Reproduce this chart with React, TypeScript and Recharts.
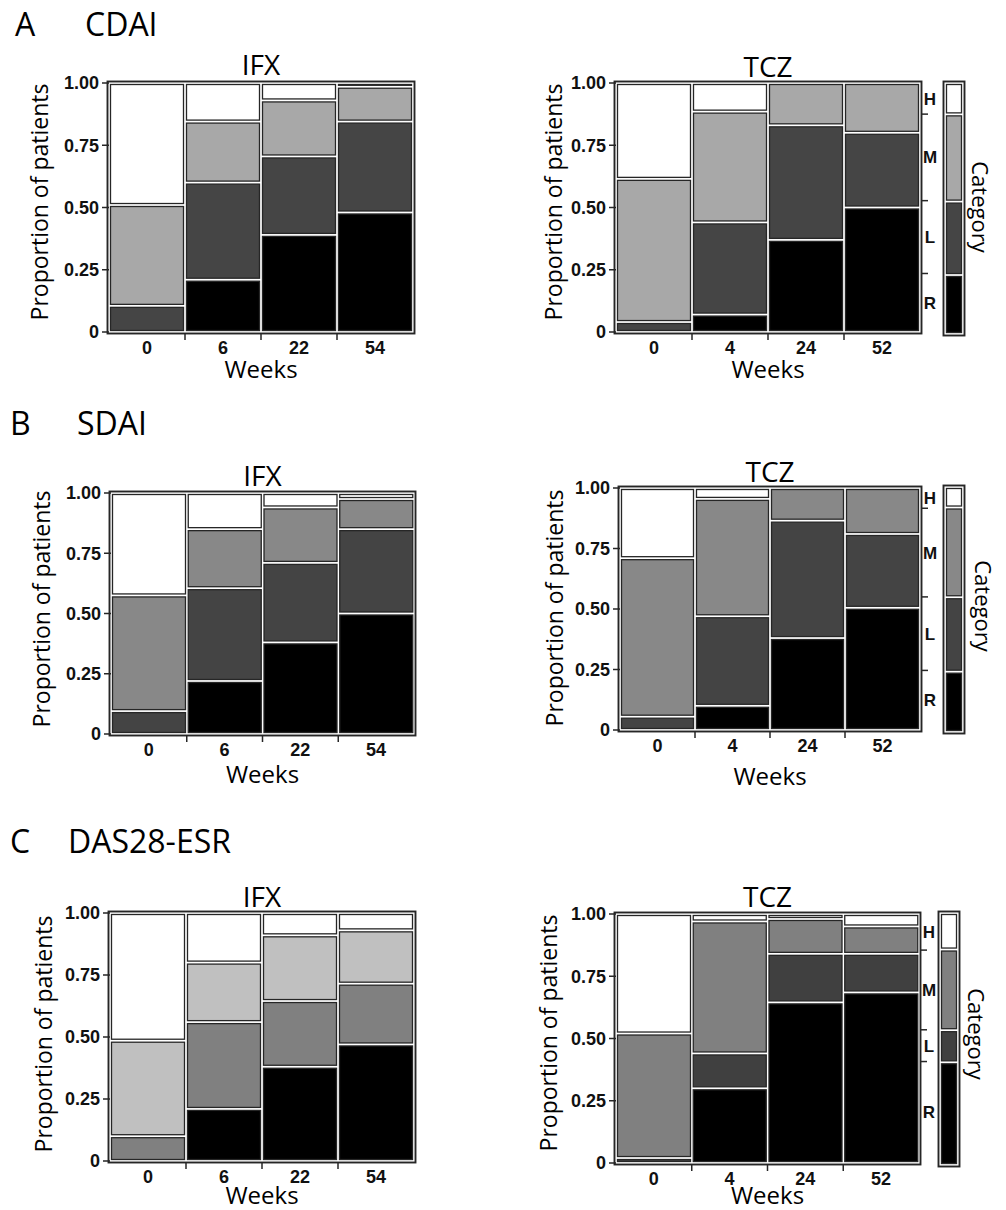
import React from 'react';
import { ComposedChart, BarChart, Bar, Line, XAxis, YAxis, ReferenceArea } from 'recharts';

const weeksIfx = ['0', '6', '22', '54'];
const weeksTcz = ['0', '4', '24', '52'];
const levels = ['R', 'L', 'M', 'H'];
const yTicks = [0, 0.25, 0.5, 0.75, 1];

// A  CDAI - share of patients per category at each week
const cdaiIfxR = [0, 0.21, 0.39, 0.48];
const cdaiIfxL = [0.105, 0.39, 0.315, 0.365];
const cdaiIfxM = [0.405, 0.245, 0.225, 0.14];
const cdaiIfxH = [0.49, 0.155, 0.07, 0.015];

const cdaiTczR = [0, 0.07, 0.37, 0.5];
const cdaiTczL = [0.04, 0.37, 0.46, 0.3];
const cdaiTczM = [0.575, 0.445, 0.17, 0.2];
const cdaiTczH = [0.385, 0.115, 0, 0];

// B  SDAI
const sdaiIfxR = [0, 0.22, 0.38, 0.5];
const sdaiIfxL = [0.095, 0.385, 0.33, 0.35];
const sdaiIfxM = [0.48, 0.245, 0.23, 0.125];
const sdaiIfxH = [0.425, 0.15, 0.06, 0.025];

const sdaiTczR = [0, 0.1, 0.38, 0.505];
const sdaiTczL = [0.055, 0.37, 0.485, 0.305];
const sdaiTczM = [0.655, 0.485, 0.135, 0.19];
const sdaiTczH = [0.29, 0.045, 0, 0];

// C  DAS28-ESR
const dasIfxR = [0, 0.21, 0.38, 0.47];
const dasIfxL = [0.1, 0.35, 0.265, 0.245];
const dasIfxM = [0.385, 0.24, 0.265, 0.215];
const dasIfxH = [0.515, 0.2, 0.09, 0.07];

const dasTczR = [0, 0.3, 0.645, 0.685];
const dasTczL = [0.02, 0.14, 0.195, 0.155];
const dasTczM = [0.5, 0.53, 0.14, 0.11];
const dasTczH = [0.48, 0.03, 0.02, 0.05];

const colorsA = { R: '#000000', L: '#454545', M: '#a8a8a8', H: '#ffffff' };
const colorsB = { R: '#000000', L: '#444444', M: '#888888', H: '#ffffff' };
const colorsCifx = { R: '#000000', L: '#808080', M: '#c0c0c0', H: '#ffffff' };
const colorsCtcz = { R: '#000000', L: '#404040', M: '#808080', H: '#ffffff' };

const toRows = (weeks: string[], R: number[], L: number[], M: number[], H: number[]) =>
  weeks.map((w, i) => ({ week: w, R: R[i], L: L[i], M: M[i], H: H[i] }));

const mean = (a: number[]) => a.reduce((s, v) => s + v, 0) / a.length;

const textFont = '"Open Sans", "DejaVu Sans", sans-serif';
const tickFont = { fontFamily: '"Liberation Sans", Arial, sans-serif', fontWeight: 700, fontSize: 18, fill: '#111' };
const edge = '#262626';

const Seg = (props: any) => {
  const { x, y, width, height, fill } = props;
  if (!(height > 0.5)) return <g />;
  return (
    <rect
      x={x + 1.5}
      y={y + 1.5}
      width={Math.max(width - 3, 0)}
      height={Math.max(height - 3, 0.8)}
      fill={fill}
      stroke={edge}
      strokeWidth={1.3}
    />
  );
};

const Frame = (p: any) => (
  <rect x={p.x - 1.5} y={p.y - 1.5} width={p.width + 3} height={p.height + 3} fill="none" stroke={edge} strokeWidth={1.9} />
);

const WeekTick = ({ x, y, payload, index, bw }: any) => (
  <g>
    {index > 0 && <line x1={x - bw / 2} x2={x - bw / 2} y1={y + 1} y2={y + 8} stroke={edge} strokeWidth={1.5} />}
    <text x={x} y={y + 22} textAnchor="middle" style={tickFont}>
      {payload.value}
    </text>
  </g>
);

const CatTick = ({ x, y, payload, cuts, mids }: any) => {
  const v = payload.value;
  if (cuts.some((c: number) => Math.abs(c - v) < 1e-9)) {
    return <line x1={x + 1} x2={x + 8} y1={y} y2={y} stroke={edge} strokeWidth={1.5} />;
  }
  const i = mids.findIndex((m: number) => Math.abs(m - v) < 1e-9);
  return (
    <text x={x + 10} y={y + 6} textAnchor="middle" style={{ ...tickFont, fontSize: 17 }}>
      {i >= 0 ? levels[i] : ''}
    </text>
  );
};

type Box = { x0: number; y0: number; x1: number; y1: number };

const marginals = (rows: any[]) => {
  const m = levels.map((k) => mean(rows.map((r) => r[k])));
  const cuts = [m[0], m[0] + m[1], m[0] + m[1] + m[2]];
  const bounds = [0, ...cuts, 1];
  const mids = levels.map((_, i) => (bounds[i] + bounds[i + 1]) / 2);
  return { share: { k: 'all', R: m[0], L: m[1], M: m[2], H: m[3] }, cuts, mids };
};

const Mosaic = ({ rows, colors, box, withCats }: { rows: any[]; colors: any; box: Box; withCats?: boolean }) => {
  const w = box.x1 - box.x0;
  const h = box.y1 - box.y0;
  const bw = w / rows.length;
  const marg = marginals(rows);
  const catTicks = [...marg.cuts, ...marg.mids].sort((a, b) => a - b);
  return (
    <div style={{ position: 'absolute', left: box.x0 - 70, top: box.y0 - 10 }}>
      <ComposedChart
        width={w + 100}
        height={h + 40}
        data={rows}
        margin={{ top: 10, right: withCats ? 0 : 30, bottom: 0, left: 10 }}
        barCategoryGap={0}
        barGap={0}
      >
        <XAxis
          dataKey="week"
          height={30}
          axisLine={false}
          tickLine={false}
          tickSize={0}
          tickMargin={0}
          interval={0}
          tick={(p: any) => <WeekTick {...p} bw={bw} />}
        />
        <YAxis
          width={60}
          type="number"
          domain={[0, 1]}
          ticks={yTicks}
          interval={0}
          axisLine={false}
          tickSize={7}
          tickMargin={3}
          tickLine={{ stroke: edge, strokeWidth: 1.5 }}
          tick={tickFont}
          tickFormatter={(v: number) => (v === 0 ? '0' : v.toFixed(2))}
        />
        {withCats && (
          <YAxis
            yAxisId="cat"
            orientation="right"
            width={30}
            type="number"
            domain={[0, 1]}
            allowDataOverflow
            ticks={catTicks}
            interval={0}
            axisLine={false}
            tickLine={false}
            tickSize={0}
            tickMargin={0}
            tick={(p: any) => <CatTick {...p} cuts={marg.cuts} mids={marg.mids} />}
          />
        )}
        {levels.map((k) => (
          <Bar key={k} dataKey={k} stackId="s" fill={colors[k]} shape={<Seg />} isAnimationActive={false} />
        ))}
        {withCats && (
          <Line yAxisId="cat" dataKey="R" stroke="none" dot={false} activeDot={false} legendType="none" isAnimationActive={false} />
        )}
        <ReferenceArea y1={0} y2={1} shape={Frame} ifOverflow="visible" />
      </ComposedChart>
    </div>
  );
};

const CatLegend = ({ rows, colors, box }: { rows: any[]; colors: any; box: Box }) => {
  const marg = marginals(rows);
  return (
    <div style={{ position: 'absolute', left: box.x0 - 3, top: box.y0 - 3 }}>
      <BarChart
        width={box.x1 - box.x0 + 6}
        height={box.y1 - box.y0 + 6}
        data={[marg.share]}
        margin={{ top: 3, right: 3, bottom: 3, left: 3 }}
        barCategoryGap={0}
      >
        <XAxis dataKey="k" hide />
        <YAxis hide type="number" domain={[0, 1]} />
        {levels.map((k) => (
          <Bar key={k} dataKey={k} stackId="s" fill={colors[k]} shape={<Seg />} isAnimationActive={false} />
        ))}
        <ReferenceArea y1={0} y2={1} shape={Frame} ifOverflow="visible" />
      </BarChart>
    </div>
  );
};

const rowsAifx = toRows(weeksIfx, cdaiIfxR, cdaiIfxL, cdaiIfxM, cdaiIfxH);
const rowsAtcz = toRows(weeksTcz, cdaiTczR, cdaiTczL, cdaiTczM, cdaiTczH);
const rowsBifx = toRows(weeksIfx, sdaiIfxR, sdaiIfxL, sdaiIfxM, sdaiIfxH);
const rowsBtcz = toRows(weeksTcz, sdaiTczR, sdaiTczL, sdaiTczM, sdaiTczH);
const rowsCifx = toRows(weeksIfx, dasIfxR, dasIfxL, dasIfxM, dasIfxH);
const rowsCtcz = toRows(weeksTcz, dasTczR, dasTczL, dasTczM, dasTczH);

const boxAifx = { x0: 109, y0: 83, x1: 413, y1: 332 };
const boxAtcz = { x0: 616, y0: 83, x1: 920, y1: 332 };
const boxBifx = { x0: 111, y0: 493, x1: 414, y1: 734 };
const boxBtcz = { x0: 620, y0: 488, x1: 920, y1: 730 };
const boxCifx = { x0: 110, y0: 913, x1: 414, y1: 1161 };
const boxCtcz = { x0: 616, y0: 914, x1: 919, y1: 1163 };

const Txt = ({ x, y, size, children, anchor = 'middle', rot = 0 }: any) => (
  <text
    transform={`translate(${x},${y}) rotate(${rot})`}
    textAnchor={anchor}
    style={{ fontFamily: textFont, fontSize: size, fill: '#000' }}
  >
    {children}
  </text>
);

const cx = (b: Box) => (b.x0 + b.x1) / 2;

export default function App() {
  return (
    <div style={{ position: 'absolute', left: 0, top: 0, width: 1006, height: 1210, background: '#fff', overflow: 'hidden' }}>
      <Mosaic rows={rowsAifx} colors={colorsA} box={boxAifx} />
      <Mosaic rows={rowsAtcz} colors={colorsA} box={boxAtcz} withCats />
      <CatLegend rows={rowsAtcz} colors={colorsA} box={{ x0: 945, y0: 83, x1: 963, y1: 334 }} />

      <Mosaic rows={rowsBifx} colors={colorsB} box={boxBifx} />
      <Mosaic rows={rowsBtcz} colors={colorsB} box={boxBtcz} withCats />
      <CatLegend rows={rowsBtcz} colors={colorsB} box={{ x0: 945, y0: 487, x1: 963, y1: 732 }} />

      <Mosaic rows={rowsCifx} colors={colorsCifx} box={boxCifx} />
      <Mosaic rows={rowsCtcz} colors={colorsCtcz} box={boxCtcz} withCats />
      <CatLegend rows={rowsCtcz} colors={colorsCtcz} box={{ x0: 940, y0: 913, x1: 958, y1: 1165 }} />

      <svg width={1006} height={1210} style={{ position: 'absolute', left: 0, top: 0, pointerEvents: 'none' }}>
        <Txt x={15} y={36} size={32} anchor="start">A</Txt>
        <Txt x={85} y={36} size={32} anchor="start">CDAI</Txt>
        <Txt x={10} y={435} size={32} anchor="start">B</Txt>
        <Txt x={77} y={435} size={32} anchor="start">SDAI</Txt>
        <Txt x={10} y={853} size={32} anchor="start">C</Txt>
        <Txt x={68} y={853} size={32} anchor="start">DAS28-ESR</Txt>

        <Txt x={cx(boxAifx)} y={75} size={28}>IFX</Txt>
        <Txt x={cx(boxAtcz)} y={77} size={28}>TCZ</Txt>
        <Txt x={cx(boxBifx)} y={486} size={28}>IFX</Txt>
        <Txt x={cx(boxBtcz)} y={482} size={28}>TCZ</Txt>
        <Txt x={cx(boxCifx)} y={907} size={28}>IFX</Txt>
        <Txt x={cx(boxCtcz)} y={907} size={28}>TCZ</Txt>

        <Txt x={cx(boxAifx)} y={378} size={24}>Weeks</Txt>
        <Txt x={cx(boxAtcz)} y={378} size={24}>Weeks</Txt>
        <Txt x={cx(boxBifx)} y={783} size={24}>Weeks</Txt>
        <Txt x={cx(boxBtcz)} y={785} size={24}>Weeks</Txt>
        <Txt x={cx(boxCifx)} y={1204} size={24}>Weeks</Txt>
        <Txt x={cx(boxCtcz)} y={1204} size={24}>Weeks</Txt>

        <Txt x={48} y={202} size={23} rot={-90}>Proportion of patients</Txt>
        <Txt x={562} y={202} size={23} rot={-90}>Proportion of patients</Txt>
        <Txt x={50} y={609} size={23} rot={-90}>Proportion of patients</Txt>
        <Txt x={563} y={608} size={23} rot={-90}>Proportion of patients</Txt>
        <Txt x={52} y={1034} size={23} rot={-90}>Proportion of patients</Txt>
        <Txt x={557} y={1033} size={23} rot={-90}>Proportion of patients</Txt>

        <Txt x={972} y={207} size={22} rot={90}>Category</Txt>
        <Txt x={975} y={606} size={22} rot={90}>Category</Txt>
        <Txt x={968} y={1034} size={22} rot={90}>Category</Txt>
      </svg>
    </div>
  );
}
